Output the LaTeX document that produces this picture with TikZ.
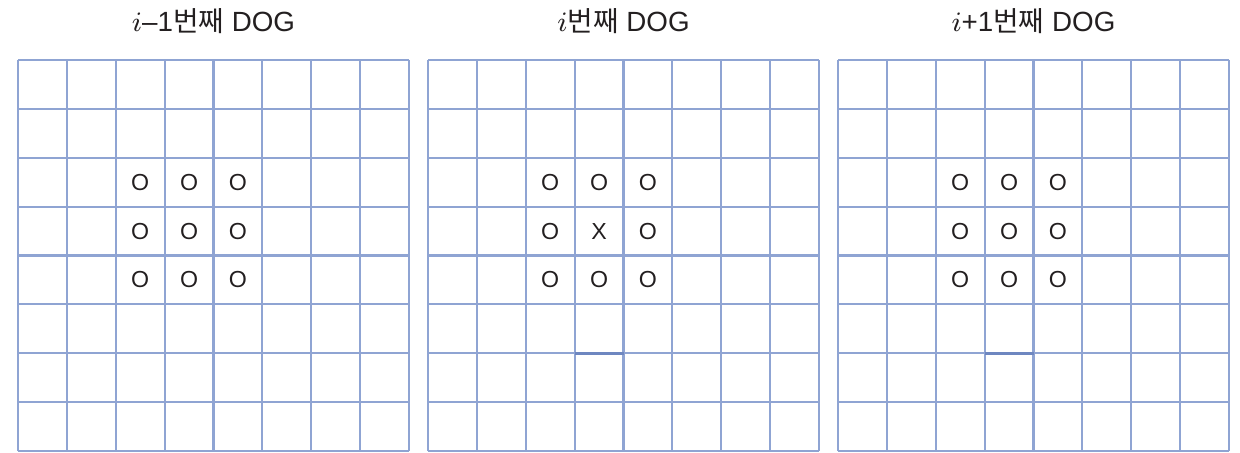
\documentclass[tikz,border=0pt]{standalone}
\usepackage{fontspec}
\setmainfont{Liberation Sans}
\newfontfamily\krfont{Noto Sans CJK KR}
\usetikzlibrary{positioning}
\definecolor{gblue}{HTML}{8FA4D3}
\definecolor{gdark}{HTML}{6E87C0}
\definecolor{ctext}{HTML}{231F20}
\tikzset{
  every picture/.style={line width=0.6pt},
  cell/.style={draw=gblue, line width=0.6pt},
  seam/.style={draw=gdark, line width=1pt},
  sym/.style={font=\fontsize{6.6}{8}\selectfont, text=ctext, inner sep=0pt},
  title/.style={font=\fontsize{7.9}{10}\selectfont, text=ctext, inner sep=1pt},
}

\begin{document}
\begin{tikzpicture}
  \useasboundingbox (0,0) rectangle (12.40,4.52);
  \foreach \g/\ttl in {0/{$i$–1}, 1/{$i$}, 2/{$i$+1}} {
    \begin{scope}[shift={({0.18+4.10*\g},0.01)}, scale=0.48875]
      \draw[cell] (0,0) grid (8,8);
      \node[title] (title\g) at (4,8.8) {\ttl{\krfont 번째} DOG};
      % 3x3 neighbourhood
      \foreach \c in {1,2,3} {
        \foreach \r in {1,2,3} {
          \node[sym] (o\g-\c-\r) at ({1.5+\c},{6.5-\r}) {O};
        }
      }
    \end{scope}
  }
  % centre pixel of the middle DOG
  \node[sym, fill=white, minimum size=11pt] (x1) at (o1-2-2) {X};
  \draw[seam] (4.10+0.18+3*0.48875,0.01+2*0.48875) -- ++(0.48875,0);
  \draw[seam] (8.20+0.18+3*0.48875,0.01+2*0.48875) -- ++(0.48875,0);
\end{tikzpicture}
\end{document}
